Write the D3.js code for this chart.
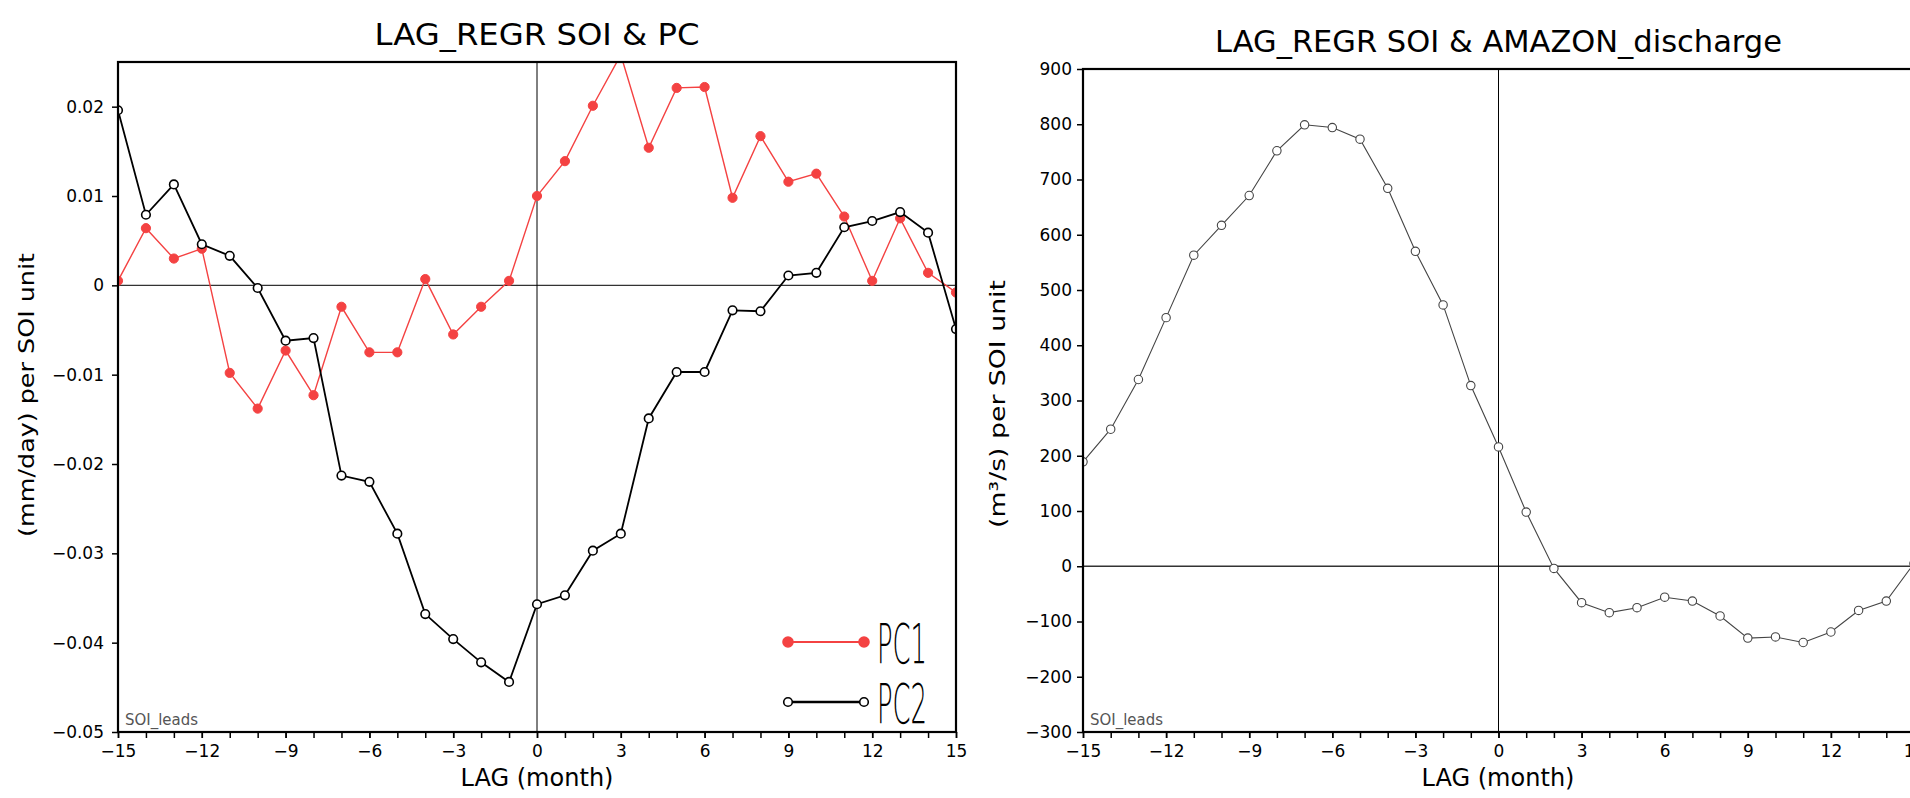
<!DOCTYPE html>
<html><head><meta charset="utf-8">
<script src="https://cdn.jsdelivr.net/npm/d3@7"></script>
<style>
body{margin:0;background:#fff}
svg{display:block}
text{font-family:"DejaVu Sans",sans-serif}
</style>
</head><body>
<svg id="c" width="1910" height="798"></svg>
<script>
// ---------- data ----------
const lags = [-15,-14,-13,-12,-11,-10,-9,-8,-7,-6,-5,-4,-3,-2,-1,0,1,2,3,4,5,6,7,8,9,10,11,12,13,14,15];
const pc1 = [0.0005,0.0064,0.0030,0.0041,-0.0098,-0.0138,-0.0073,-0.0123,-0.0024,-0.0075,-0.0075,0.0007,-0.0055,-0.0024,0.0005,
             0.0100,0.0139,0.0201,0.0258,0.0154,0.0221,0.0222,0.0098,0.0167,0.0116,0.0125,0.0077,0.0005,0.0075,0.0014,-0.0008];
const pc2 = [0.0196,0.0079,0.0113,0.0046,0.0033,-0.0003,-0.0062,-0.0059,-0.0213,-0.0220,-0.0278,-0.0368,-0.0396,-0.0422,-0.0444,
             -0.0357,-0.0347,-0.0297,-0.0278,-0.0149,-0.0097,-0.0097,-0.0028,-0.0029,0.0011,0.0014,0.0065,0.0072,0.0082,0.0059,-0.0049];
const amazon = [189,248,338,450,563,617,671,752,799,794,773,684,570,473,327,
                216,98,-4,-66,-84,-75,-56,-63,-90,-130,-128,-138,-119,-80,-63,5];
const xMajorTicks = [-15,-12,-9,-6,-3,0,3,6,9,12,15];
const yTicksLeft = [-0.05,-0.04,-0.03,-0.02,-0.01,0,0.01,0.02];
const yTicksRight = [-300,-200,-100,0,100,200,300,400,500,600,700,800,900];
const seriesNames = ["PC1","PC2"];
const titles = ["LAG_REGR SOI & PC","LAG_REGR SOI & AMAZON_discharge"];
const yTitles = ["(mm/day) per SOI unit","(m\u00B3/s) per SOI unit"];
const xTitle = "LAG (month)";
const note = "SOI_leads";

const RED = "#f44242";
const svg = d3.select("#c");
svg.append("rect").attr("width",1910).attr("height",798).attr("fill","#fff");

function panel(o){
  const x = d3.scaleLinear().domain([-15,15]).range([o.x0,o.x1]);
  const y = d3.scaleLinear().domain(o.ydom).range([o.y1,o.y0]);
  const g = svg.append("g");
  const cid = "clip"+o.id;
  svg.append("clipPath").attr("id",cid).append("rect")
    .attr("x",o.x0).attr("y",o.y0).attr("width",o.x1-o.x0).attr("height",o.y1-o.y0);

  // zero lines
  g.append("line").attr("x1",o.x0).attr("x2",o.x1).attr("y1",y(0)).attr("y2",y(0))
    .attr("stroke","#333").attr("stroke-width",1.3);
  g.append("line").attr("x1",x(0)).attr("x2",x(0)).attr("y1",o.y0).attr("y2",o.y1)
    .attr("stroke","#000").attr("stroke-width",1);

  // axes
  const xa = g.append("g").attr("transform",`translate(0,${o.y1})`)
    .call(d3.axisBottom(x).tickValues(lags).tickSize(6).tickFormat(""));
  xa.select(".domain").remove();
  xa.selectAll("line").attr("stroke","#000").attr("stroke-width",1.5);
  const xl = g.append("g").attr("transform",`translate(0,${o.y1})`)
    .call(d3.axisBottom(x).tickValues(xMajorTicks).tickSize(6).tickPadding(7).tickFormat(d3.format("d")));
  xl.select(".domain").remove();
  xl.selectAll("line").attr("stroke","#000").attr("stroke-width",1.5);
  xl.selectAll("text").attr("font-size",17).attr("font-family","DejaVu Sans").attr("fill","#000");

  const ya = g.append("g").attr("transform",`translate(${o.x0},0)`)
    .call(d3.axisLeft(y).tickValues(o.yticks).tickSize(6).tickPadding(o.ypad).tickFormat(o.yfmt));
  ya.select(".domain").remove();
  ya.selectAll("line").attr("stroke","#000").attr("stroke-width",1.5);
  ya.selectAll("text").attr("font-size",17).attr("font-family","DejaVu Sans").attr("fill","#000");

  // series
  const plot = g.append("g").attr("clip-path",`url(#${cid})`);
  o.series.forEach(s=>{
    const line = d3.line().x((d,i)=>x(lags[i])).y(d=>y(d));
    plot.append("path").datum(s.values).attr("d",line).attr("fill","none")
      .attr("stroke",s.color).attr("stroke-width",s.lw);
    plot.selectAll(null).data(s.values).join("circle")
      .attr("cx",(d,i)=>x(lags[i])).attr("cy",d=>y(d)).attr("r",s.r)
      .attr("fill",s.filled? s.color : "#fff")
      .attr("stroke",s.color).attr("stroke-width",s.mw);
  });

  // frame
  g.append("rect").attr("x",o.x0).attr("y",o.y0).attr("width",o.x1-o.x0).attr("height",o.y1-o.y0)
    .attr("fill","none").attr("stroke","#000").attr("stroke-width",2.2);

  // texts
  g.append("text").attr("x",(o.x0+o.x1)/2).attr("y",o.titleY).attr("text-anchor","middle")
    .attr("font-size",30).attr("textLength",o.titleLen).attr("lengthAdjust","spacingAndGlyphs")
    .text(o.title);
  g.append("text").attr("x",o.xtCenter).attr("y",786).attr("text-anchor","middle")
    .attr("font-size",25).attr("textLength",153).attr("lengthAdjust","spacingAndGlyphs")
    .text(xTitle);
  g.append("text").attr("transform",`translate(${o.ytX},${o.ytY}) rotate(-90)`)
    .attr("text-anchor","middle").attr("font-size",22)
    .attr("textLength",o.ytLen).attr("lengthAdjust","spacingAndGlyphs").text(o.ytitle);
  g.append("text").attr("x",o.x0+7).attr("y",725).attr("font-size",15).attr("fill","#555")
    .attr("textLength",73).attr("lengthAdjust","spacingAndGlyphs").text(note);
  return {x,y,g};
}

const fmtL = d => d===0 ? "0" : d3.format(".2f")(d);

const left = panel({
  id:"L", x0:118, x1:956, y0:62, y1:732, ydom:[-0.05,0.025], yticks:yTicksLeft, yfmt:fmtL, ypad:8,
  title:titles[0], titleY:45, titleLen:325, xtCenter:537,
  ytitle:yTitles[0], ytX:34, ytY:395, ytLen:284,
  series:[
    {values:pc1, color:RED, lw:1.4, r:4.6, filled:true, mw:1},
    {values:pc2, color:"#000", lw:1.8, r:4.3, filled:false, mw:1.6}
  ]
});

const right = panel({
  id:"R", x0:1083, x1:1914, y0:69, y1:732, ydom:[-300,900], yticks:yTicksRight, yfmt:d3.format("d"), ypad:5,
  title:titles[1], titleY:52, titleLen:567, xtCenter:1498,
  ytitle:yTitles[1], ytX:1005, ytY:404, ytLen:248,
  series:[
    {values:amazon, color:"#444", lw:1.1, r:4.2, filled:false, mw:1.1}
  ]
});

// legend (left panel)
const leg = svg.append("g");
const legItems = [
  {name:seriesNames[0], color:RED, filled:true, lw:2, y:642, r:5},
  {name:seriesNames[1], color:"#000", filled:false, lw:2.4, y:702, r:4.3}
];
legItems.forEach(d=>{
  leg.append("line").attr("x1",788).attr("x2",864).attr("y1",d.y).attr("y2",d.y)
    .attr("stroke",d.color).attr("stroke-width",d.lw);
  [788,864].forEach(cx=>leg.append("circle").attr("cx",cx).attr("cy",d.y).attr("r",d.r)
    .attr("fill",d.filled?d.color:"#fff").attr("stroke",d.color).attr("stroke-width",1.6));
  leg.append("text").attr("x",877).attr("y",d.y+21).attr("font-size",56)
    .attr("font-family","Lato").attr("font-weight",300)
    .attr("textLength",50).attr("lengthAdjust","spacingAndGlyphs").attr("fill","#000").text(d.name);
});
</script>
</body></html>
